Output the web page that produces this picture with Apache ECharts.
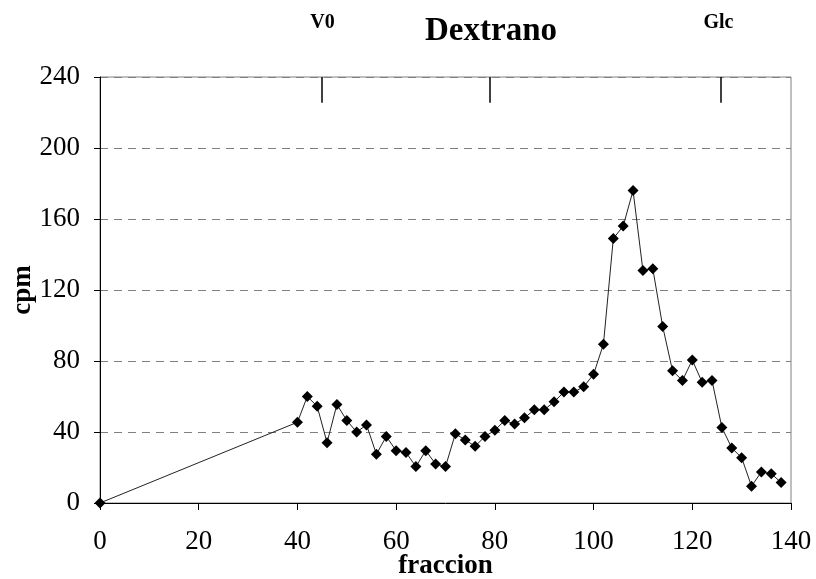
<!DOCTYPE html>
<html><head><meta charset="utf-8">
<script src="https://cdn.jsdelivr.net/npm/echarts@6/dist/echarts.min.js"></script>
<style>html,body{margin:0;padding:0;background:#fff}#c{width:816px;height:579px}</style>
</head><body><div id="c"></div>
<script>
const fraccion = [0,40,42,44,46,48,50,52,54,56,58,60,62,64,66,68,70,72,74,76,78,80,82,84,86,88,90,92,94,96,98,100,102,104,106,108,110,112,114,116,118,120,122,124,126,128,130,132,134,136,138];
const cpm = [0,45.5,60,54.5,34,55.5,46.5,40,44,27.5,37.5,29.5,28.5,20.5,29.5,22,20.5,39,35.5,32,37.5,41,46.5,44.5,48,52.5,52.5,57,62.5,62.5,65.5,72.5,89.5,149,156,176,131,132,99.5,74.5,69,80.5,68,69,42.5,31,25.5,9.5,17.5,16.5,11.5];
const markerX = [45, 79, 125.7];
const markerNames = ['V0', '', 'Glc'];
const xTicks = [0,20,40,60,80,100,120,140];
const yTicks = [0,40,80,120,160,200,240];

const serif = 'Liberation Serif';
const chart = echarts.init(document.getElementById('c'));
const pts = fraccion.map((f,i)=>[f,cpm[i]]);
chart.setOption({
  animation:false,
  backgroundColor:'#fff',
  graphic:[
    {type:'text',x:491,y:31,style:{text:'Dextrano',fontFamily:serif,fontWeight:'bold',fontSize:33,fill:'#000',align:'center',verticalAlign:'middle'}},
    {type:'text',x:322.5,y:23,style:{text:markerNames[0],fontFamily:serif,fontWeight:'bold',fontSize:20,fill:'#000',align:'center',verticalAlign:'middle'}},
    {type:'text',x:718.5,y:23,style:{text:markerNames[2],fontFamily:serif,fontWeight:'bold',fontSize:20,fill:'#000',align:'center',verticalAlign:'middle'}}
  ],
  grid:{left:100,right:25,top:77,bottom:76,show:true,borderColor:'#808080',borderWidth:1,containLabel:false,outerBoundsMode:'none'},
  xAxis:{type:'value',min:xTicks[0],max:xTicks[xTicks.length-1],interval:20,
    name:'fraccion',nameLocation:'middle',nameGap:50,nameMoveOverlap:false,
    nameTextStyle:{fontFamily:serif,fontWeight:'bold',fontSize:27,color:'#000'},
    axisLine:{onZero:false,lineStyle:{color:'#000',width:1}},
    axisTick:{show:true,inside:false,length:7,lineStyle:{color:'#000'}},
    axisLabel:{fontFamily:serif,fontSize:27,color:'#000',margin:25,hideOverlap:false},
    splitLine:{show:false}},
  yAxis:{type:'value',min:yTicks[0],max:yTicks[yTicks.length-1],interval:40,
    name:'cpm',nameLocation:'middle',nameGap:63,nameRotate:90,nameMoveOverlap:false,
    nameTextStyle:{fontFamily:serif,fontWeight:'bold',fontSize:27,color:'#000'},
    axisLine:{show:true,onZero:false,lineStyle:{color:'#000',width:1}},
    axisTick:{show:true,inside:false,length:6,lineStyle:{color:'#000'}},
    axisLabel:{fontFamily:serif,fontSize:27,color:'#000',margin:20},
    splitLine:{show:true,lineStyle:{color:'#808080',type:[8,6],width:1}}},
  series:[{
    type:'line',data:pts,symbol:'diamond',symbolSize:11,
    itemStyle:{color:'#000'},lineStyle:{color:'#222',width:1},
    markLine:{silent:true,symbol:'none',label:{show:false},
      lineStyle:{color:'#000',type:'solid',width:1.5},
      data:markerX.map(x=>[{coord:[x,240]},{coord:[x,225.5]}])}
  }]
});
</script></body></html>
